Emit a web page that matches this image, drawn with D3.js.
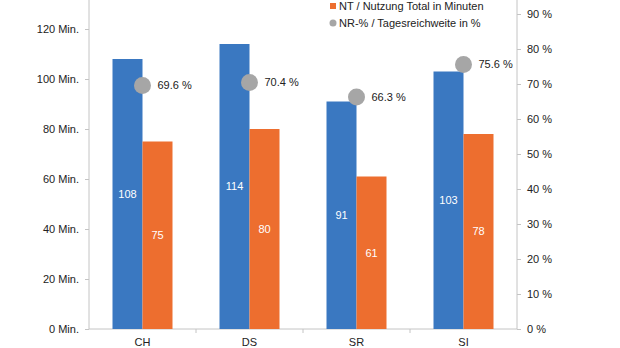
<!DOCTYPE html>
<html><head><meta charset="utf-8">
<script src="https://cdn.jsdelivr.net/npm/d3@7"></script>
<style>
html,body{margin:0;padding:0;background:#fff;}
svg{display:block;font-family:"Liberation Sans",Arial,sans-serif;}
</style></head>
<body><svg id="c" width="620" height="348"></svg>
<script>
const categories = ["CH","DS","SR","SI"];
const brutto = [108,114,91,103];      // blue bars (minutes)
const nutzung = [75,80,61,78];        // orange bars (minutes)
const reach = [69.6,70.4,66.3,75.6];  // grey dots (%)
const leftTicks = [0,20,40,60,80,100,120];
const rightTicks = [0,10,20,30,40,50,60,70,80,90];
const legendLabels = ["NT / Nutzung Total in Minuten","NR-% / Tagesreichweite in %"];

const blue="#3a78c1", orange="#ed6e2f", grey="#a6a6a6", axisCol="#c4c4c4", txt="#222";
const svg=d3.select("#c");
const L=89,R=517,B=329,T=-21;

const x=d3.scaleBand().domain(categories).range([L,R]);
const yL=d3.scaleLinear().domain([0,140]).range([B,T]);
const yR=d3.scaleLinear().domain([0,100]).range([B,T]);
const barW=30;

// axes
const axL=svg.append("g").attr("transform",`translate(${L},0)`)
 .call(d3.axisLeft(yL).tickValues(leftTicks).tickSize(4).tickPadding(6).tickFormat(d=>d+" Min."));
const axR=svg.append("g").attr("transform",`translate(${R},0)`)
 .call(d3.axisRight(yR).tickValues(rightTicks).tickSize(4).tickPadding(6).tickFormat(d=>d+" %"));
const axB=svg.append("g").attr("transform",`translate(0,${B})`)
 .call(d3.axisBottom(x).tickSize(0).tickPadding(9));
// category boundary ticks
svg.append("g").selectAll("line").data(categories.slice(1)).join("line")
 .attr("x1",d=>x(d)).attr("x2",d=>x(d)).attr("y1",B).attr("y2",B+4)
 .attr("stroke",axisCol);
[axL,axR,axB].forEach(a=>{
  a.selectAll(".domain").attr("stroke",axisCol).attr("d",null);
  a.selectAll(".tick line").attr("stroke",axisCol);
  a.selectAll("text").attr("fill",txt).style("font-size","11px").style("font-family","'Liberation Sans',Arial,sans-serif");
});
axL.select(".domain").remove(); axR.select(".domain").remove(); axB.select(".domain").remove();
svg.append("line").attr("x1",L).attr("x2",L).attr("y1",0).attr("y2",B).attr("stroke",axisCol);
svg.append("line").attr("x1",R).attr("x2",R).attr("y1",0).attr("y2",B).attr("stroke",axisCol);
svg.append("line").attr("x1",L).attr("x2",R).attr("y1",B).attr("y2",B).attr("stroke",axisCol);

const cx=d=>x(d)+x.bandwidth()/2;
// bars
svg.append("g").selectAll("rect").data(categories).join("rect")
 .attr("x",(d)=>cx(d)-barW).attr("width",barW)
 .attr("y",(d,i)=>yL(brutto[i])).attr("height",(d,i)=>B-yL(brutto[i])).attr("fill",blue);
svg.append("g").selectAll("rect").data(categories).join("rect")
 .attr("x",(d)=>cx(d)).attr("width",barW)
 .attr("y",(d,i)=>yL(nutzung[i])).attr("height",(d,i)=>B-yL(nutzung[i])).attr("fill",orange);
// bar labels
svg.append("g").selectAll("text").data(categories).join("text")
 .attr("x",d=>cx(d)-barW/2).attr("y",(d,i)=>yL(brutto[i]/2)).attr("dy","0.35em")
 .attr("text-anchor","middle").attr("fill","#fff").style("font-size","11px").text((d,i)=>brutto[i]);
svg.append("g").selectAll("text").data(categories).join("text")
 .attr("x",d=>cx(d)+barW/2).attr("y",(d,i)=>yL(nutzung[i]/2)).attr("dy","0.35em")
 .attr("text-anchor","middle").attr("fill","#fff").style("font-size","11px").text((d,i)=>nutzung[i]);
// dots
svg.append("g").selectAll("circle").data(categories).join("circle")
 .attr("cx",d=>cx(d)).attr("cy",(d,i)=>yR(reach[i])).attr("r",8.5).attr("fill",grey);
svg.append("g").selectAll("text").data(categories).join("text")
 .attr("x",d=>cx(d)+15).attr("y",(d,i)=>yR(reach[i])).attr("dy","0.35em")
 .attr("fill",txt).style("font-size","11px").text((d,i)=>reach[i].toFixed(1)+" %");

// legend
const lg=svg.append("g");
lg.append("rect").attr("x",330).attr("y",3).attr("width",6).attr("height",6).attr("fill",orange);
lg.append("circle").attr("cx",333).attr("cy",23).attr("r",3.5).attr("fill",grey);
lg.selectAll("text").data(legendLabels).join("text")
 .attr("x",339).attr("y",(d,i)=>6+i*17).attr("dy","0.35em")
 .attr("fill",txt).style("font-size","11px").text(d=>d);
</script></body></html>
